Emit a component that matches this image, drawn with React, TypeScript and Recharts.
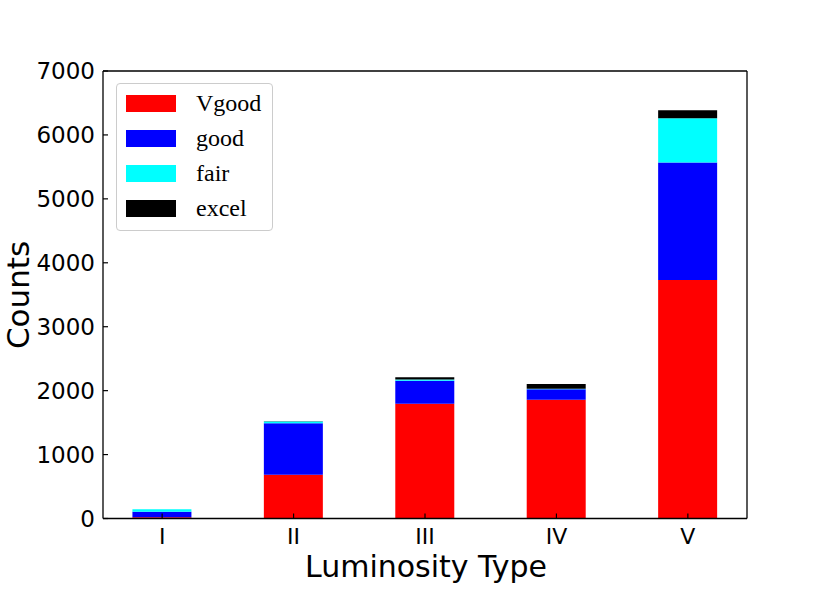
import React from 'react';
import { BarChart, Bar, XAxis, YAxis, Legend, ReferenceLine } from 'recharts';

// luminosity classes on the x axis
const categories = ['I', 'II', 'III', 'IV', 'V'];

// stacked counts per class, bottom to top
const vgood = [20, 685, 1795, 1856, 3730];
const good = [86, 805, 358, 167, 1840];
const fair = [40, 28, 22, 5, 690];
const excel = [0, 5, 36, 75, 125];

const yTicks = [0, 1000, 2000, 3000, 4000, 5000, 6000, 7000];
const xDomain = [-0.45, 4.45];
const yMax = 7000;

const series = [
  { key: 'Vgood', values: vgood, color: '#ff0000' },
  { key: 'good', values: good, color: '#0000ff' },
  { key: 'fair', values: fair, color: '#00ffff' },
  { key: 'excel', values: excel, color: '#000000' },
];

const data = categories.map((name, i) => {
  const row: Record<string, number | string> = { x: i, name };
  series.forEach((s) => {
    row[s.key] = s.values[i];
  });
  return row;
});

const SANS = '"DejaVu Sans", sans-serif';
const SERIF = '"Liberation Serif", "Times New Roman", serif';

function YTick({ x, y, payload }: any) {
  return (
    <g>
      <line x1={x} x2={x + 5} y1={y} y2={y} stroke="#000" strokeWidth={1.2} />
      <text x={x - 8} y={y} dy="0.36em" textAnchor="end" fontSize={23} fontFamily={SANS} fill="#000">
        {payload.value}
      </text>
    </g>
  );
}

function XTick({ x, y, payload }: any) {
  return (
    <g>
      <line x1={x} x2={x} y1={y} y2={y - 5} stroke="#000" strokeWidth={1.2} />
      <text x={x} y={y} dy={25} textAnchor="middle" fontSize={22} fontFamily={SANS} fill="#000">
        {categories[payload.value]}
      </text>
    </g>
  );
}

function YLabel() {
  return (
    <text transform="translate(29, 295) rotate(-90)" textAnchor="middle" fontSize={31} fontFamily={SANS} fill="#000">
      Counts
    </text>
  );
}

function XLabel() {
  return (
    <text x={426} y={577} textAnchor="middle" fontSize={30} fontFamily={SANS} fill="#000">
      Luminosity Type
    </text>
  );
}

function LegendBox() {
  return (
    <div
      style={{
        position: 'relative',
        width: 157,
        height: 148,
        boxSizing: 'border-box',
        border: '1px solid #cccccc',
        borderRadius: 4,
        background: 'rgba(255,255,255,0.8)',
        fontFamily: SERIF,
        fontSize: 24,
        color: '#000',
      }}
    >
      {series.map((s, i) => (
        <div
          key={s.key}
          style={{
            position: 'absolute',
            left: 9,
            top: 19 + i * 35 - 14,
            height: 28,
            display: 'flex',
            alignItems: 'center',
            whiteSpace: 'nowrap',
          }}
        >
          <span style={{ display: 'inline-block', width: 50, height: 17, background: s.color }} />
          <span style={{ marginLeft: 20, lineHeight: '24px' }}>{s.key}</span>
        </div>
      ))}
    </div>
  );
}

export default function App() {
  return (
    <div style={{ width: 830, height: 593, background: '#fff' }}>
      <style>{'body{margin:0}'}</style>
      <BarChart width={830} height={593} data={data} margin={{ top: 71, right: 83, bottom: 14.5, left: 0 }}>
        <XAxis
          dataKey="x"
          type="number"
          domain={xDomain}
          ticks={[0, 1, 2, 3, 4]}
          height={60}
          tickSize={0}
          tickMargin={0}
          tickLine={false}
          axisLine={{ stroke: '#000', strokeWidth: 1.3 }}
          tick={<XTick />}
          label={<XLabel />}
          allowDataOverflow
        />
        <YAxis
          domain={[0, yMax]}
          ticks={yTicks}
          width={103}
          tickSize={0}
          tickMargin={0}
          tickLine={false}
          axisLine={{ stroke: '#000', strokeWidth: 1.3 }}
          tick={<YTick />}
          label={<YLabel />}
          interval={0}
        />
        {/* top and right spines */}
        <ReferenceLine y={yMax} stroke="#000" strokeWidth={1.3} />
        <ReferenceLine x={xDomain[1]} stroke="#000" strokeWidth={1.3} />
        <Legend
          layout="vertical"
          align="center"
          verticalAlign="middle"
          content={<LegendBox />}
          wrapperStyle={{ left: 116, top: 83, width: 157, height: 148 }}
        />
        {series.map((s) => (
          <Bar key={s.key} dataKey={s.key} stackId="a" fill={s.color} barSize={59} isAnimationActive={false} />
        ))}
      </BarChart>
    </div>
  );
}
